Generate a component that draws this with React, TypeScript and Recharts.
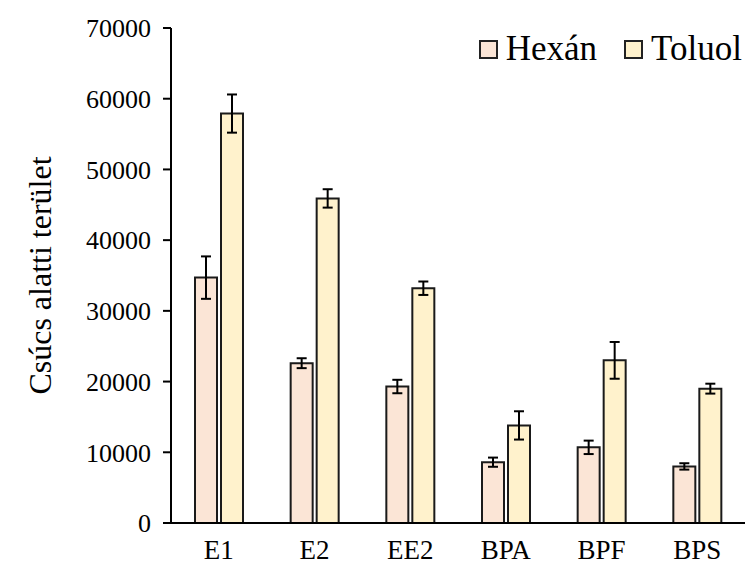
import React from 'react';
import { BarChart, Bar, XAxis, YAxis, ErrorBar } from 'recharts';

// Peak areas per analyte, extracted with hexane and with toluene
const categories = ['E1', 'E2', 'EE2', 'BPA', 'BPF', 'BPS'];
const hexanValues = [34700, 22600, 19300, 8600, 10700, 8000];
const hexanErrors = [3000, 700, 950, 650, 950, 450];
const toluolValues = [57900, 45900, 33200, 13800, 23000, 19000];
const toluolErrors = [2700, 1300, 950, 2000, 2600, 700];
const yTicks = [0, 10000, 20000, 30000, 40000, 50000, 60000, 70000];

const HEXAN_FILL = '#FBE5D6';
const TOLUOL_FILL = '#FFF2CC';
const FONT = '"Liberation Serif", "Times New Roman", serif';

const data = categories.map((name, i) => ({
  name,
  hexan: hexanValues[i],
  hexanErr: hexanErrors[i],
  toluol: toluolValues[i],
  toluolErr: toluolErrors[i],
}));

const legendItems = [
  { label: 'Hexán', fill: HEXAN_FILL },
  { label: 'Toluol', fill: TOLUOL_FILL },
];

const ChartLegend = () => (
  <div
    style={{
      position: 'absolute',
      top: 31,
      right: 3,
      display: 'flex',
      alignItems: 'center',
      fontFamily: FONT,
      fontSize: 35,
      lineHeight: '36px',
      color: '#000',
    }}
  >
    {legendItems.map((it, i) => (
      <div key={it.label} style={{ display: 'flex', alignItems: 'center', marginLeft: i === 0 ? 0 : 27 }}>
        <span
          style={{
            display: 'inline-block',
            width: 15,
            height: 15,
            background: it.fill,
            border: '2px solid #222',
            marginRight: 8,
          }}
        />
        <span>{it.label}</span>
      </div>
    ))}
  </div>
);

const YLabel = (props: any) => {
  const vb = props.viewBox || {};
  const cx = 40;
  const cy = (vb.y ?? 0) + (vb.height ?? 0) / 2;
  return (
    <text
      x={cx}
      y={cy}
      transform={`rotate(-90, ${cx}, ${cy})`}
      textAnchor="middle"
      dominantBaseline="central"
      fontFamily={FONT}
      fontSize={32}
      fill="#000"
    >
      Csúcs alatti terület
    </text>
  );
};

export default function App() {
  return (
    <div style={{ position: 'absolute', left: 0, top: 0, width: 745, height: 571, background: '#fff' }}>
      <BarChart
        width={745}
        height={571}
        data={data}
        margin={{ top: 28, right: 0, bottom: 0, left: 0 }}
        barSize={22}
        barGap={4}
      >
        <XAxis
          dataKey="name"
          height={48}
          tickLine={false}
          tickSize={0}
          tickMargin={17}
          axisLine={{ stroke: '#000', strokeWidth: 2 }}
          tick={{ fill: '#000', fontSize: 27, fontFamily: FONT }}
        />
        <YAxis
          width={171}
          domain={[0, 70000]}
          ticks={yTicks}
          interval={0}
          tickSize={8}
          tickMargin={12}
          axisLine={{ stroke: '#000', strokeWidth: 2 }}
          tickLine={{ stroke: '#000', strokeWidth: 2 }}
          tick={{ fill: '#000', fontSize: 26, fontFamily: FONT }}
          label={{ content: <YLabel /> }}
        />
        <Bar dataKey="hexan" name="Hexán" fill={HEXAN_FILL} stroke="#1a1a1a" strokeWidth={2} isAnimationActive={false}>
          <ErrorBar dataKey="hexanErr" direction="y" width={5} stroke="#000" strokeWidth={2} />
        </Bar>
        <Bar dataKey="toluol" name="Toluol" fill={TOLUOL_FILL} stroke="#1a1a1a" strokeWidth={2} isAnimationActive={false}>
          <ErrorBar dataKey="toluolErr" direction="y" width={5} stroke="#000" strokeWidth={2} />
        </Bar>
      </BarChart>
      <ChartLegend />
    </div>
  );
}
